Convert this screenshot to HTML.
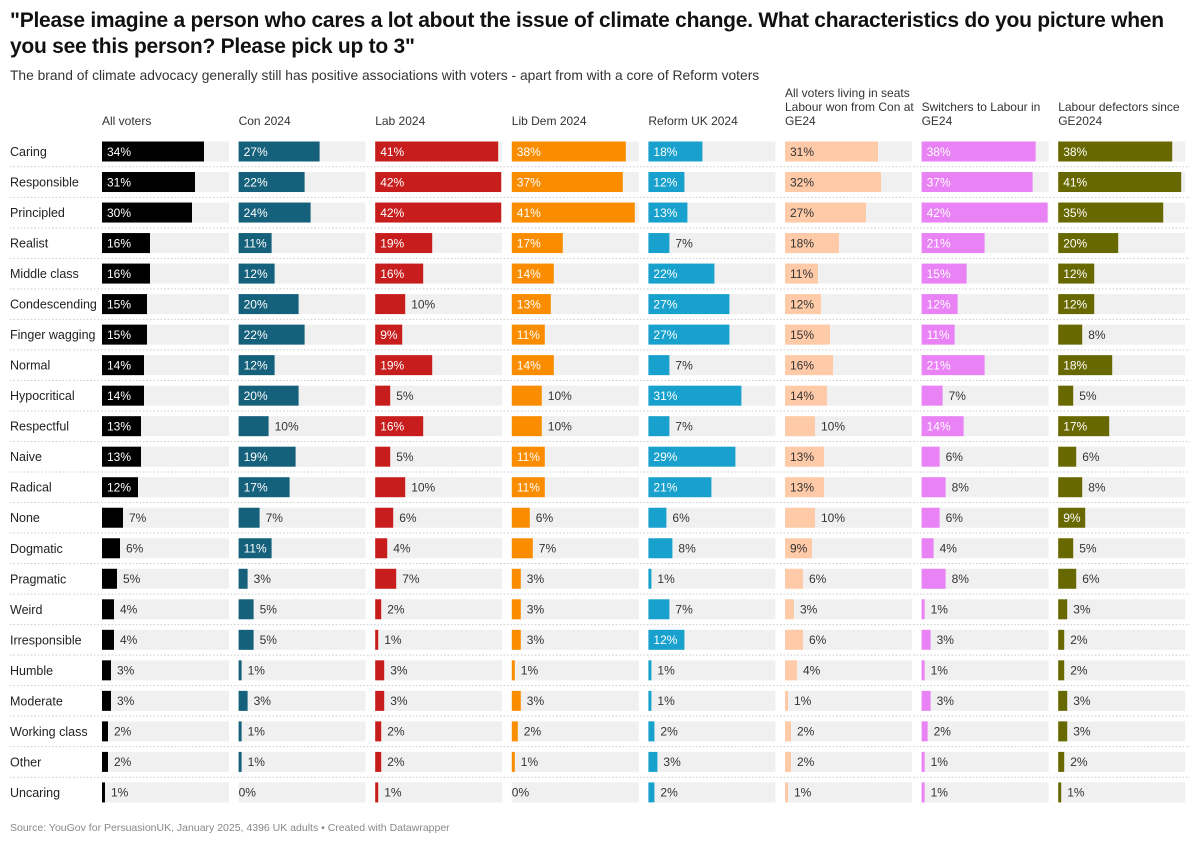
<!DOCTYPE html>
<html><head><meta charset="utf-8">
<style>
body{margin:0;background:#fff;font-family:"Liberation Sans",Arial,sans-serif;color:#1d1d1d;}
#wrap{position:relative;width:1200px;height:844px;overflow:hidden;}
h1{position:absolute;left:10px;top:8px;margin:0;font-size:21px;line-height:26px;font-weight:bold;color:#111;width:1185px;letter-spacing:-0.25px;}
.sub{position:absolute;left:10px;top:68px;font-size:13.8px;color:#333;}
.hdr{position:absolute;top:92px;height:36px;width:132px;display:flex;align-items:flex-end;font-size:12px;line-height:14px;color:#333;}
.foot{position:absolute;left:10px;top:822px;font-size:10.5px;color:#888;}
svg{position:absolute;left:0;top:0;}
</style></head><body>
<div id="wrap">
<h1>"Please imagine a person who cares a lot about the issue of climate change. What characteristics do you picture when you see this person? Please pick up to 3"</h1>
<div class="sub">The brand of climate advocacy generally still has positive associations with voters - apart from with a core of Reform voters</div>
<div class="hdr" style="left:102px">All voters</div>
<div class="hdr" style="left:238.6px">Con 2024</div>
<div class="hdr" style="left:375.2px">Lab 2024</div>
<div class="hdr" style="left:511.8px">Lib Dem 2024</div>
<div class="hdr" style="left:648.4px">Reform UK 2024</div>
<div class="hdr" style="left:785px">All voters living in seats Labour won from Con at GE24</div>
<div class="hdr" style="left:921.6px">Switchers to Labour in GE24</div>
<div class="hdr" style="left:1058.2px">Labour defectors since GE2024</div>
<svg id="chart" width="1200" height="844"></svg>
<div class="foot">Source: YouGov for PersuasionUK, January 2025, 4396 UK adults • Created with Datawrapper</div>
</div>
<script>
const categories=["Caring","Responsible","Principled","Realist","Middle class","Condescending","Finger wagging","Normal","Hypocritical","Respectful","Naive","Radical","None","Dogmatic","Pragmatic","Weird","Irresponsible","Humble","Moderate","Working class","Other","Uncaring"];
const allVoters=[34,31,30,16,16,15,15,14,14,13,13,12,7,6,5,4,4,3,3,2,2,1];
const con2024=[27,22,24,11,12,20,22,12,20,10,19,17,7,11,3,5,5,1,3,1,1,0];
const lab2024=[41,42,42,19,16,10,9,19,5,16,5,10,6,4,7,2,1,3,3,2,2,1];
const libDem2024=[38,37,41,17,14,13,11,14,10,10,11,11,6,7,3,3,3,1,3,2,1,0];
const reform2024=[18,12,13,7,22,27,27,7,31,7,29,21,6,8,1,7,12,1,1,2,3,2];
const labourSeats=[31,32,27,18,11,12,15,16,14,10,13,13,10,9,6,3,6,4,1,2,2,1];
const switchers=[38,37,42,21,15,12,11,21,7,14,6,8,6,4,8,1,3,1,3,2,1,1];
const defectors=[38,41,35,20,12,12,8,18,5,17,6,8,9,5,6,3,2,2,3,3,2,1];
const seriesList=[allVoters,con2024,lab2024,libDem2024,reform2024,labourSeats,switchers,defectors];
const seriesNames=["all-voters","con-2024","lab-2024","lib-dem-2024","reform-2024","labour-seats","switchers","defectors"];
const colors=["#000000","#15607a","#c71e1d","#fa8c00","#18a1cd","#ffcaa8","#e982f5","#676800"];
const insideText=["#fff","#fff","#fff","#fff","#fff","#333","#fff","#fff"];
const NS="http://www.w3.org/2000/svg";
const svg=document.getElementById('chart');
const colX=i=>102+i*136.6;
const xScale=v=>v*3;
const trackW=127;
const yRow=i=>151.5+i*30.52;
const cv=document.createElement('canvas').getContext('2d');
cv.font='12px "Liberation Sans", Arial, sans-serif';
function mk(tag,attrs){const e=document.createElementNS(NS,tag);for(const k in attrs)e.setAttribute(k,attrs[k]);svg.appendChild(e);return e;}
categories.forEach((c,i)=>{
  const y=yRow(i);
  const t=mk('text',{x:10,y:y+4.5,'font-size':12.5,fill:'#222'});
  t.textContent=c;
  
  
  if(i<categories.length-1){
    const l=mk('line',{x1:10,x2:1190,y1:y+15.3,y2:y+15.3,stroke:'#ccc','stroke-dasharray':'1.5,2','stroke-width':1});
    
    
  }
  seriesList.forEach((s,j)=>{
    const x0=colX(j),v=s[i],w=xScale(v);
    const tr=mk('rect',{x:x0,y:y-10,width:trackW,height:20,fill:'#f0f0f0'});
    
    
    if(w>0){
      const b=mk('rect',{x:x0,y:y-10,width:w,height:20,fill:colors[j]});
      
      
    }
    const lbl=v+'%';
    const tw=cv.measureText(lbl).width;
    const inside=w>=tw+9;
    const tx=mk('text',{x:inside?x0+5:x0+w+(w>0?6:0),y:y+4.3,'font-size':12,fill:inside?insideText[j]:'#333'});
    tx.textContent=lbl;
    
    
  });
});
</script>
</body></html>
